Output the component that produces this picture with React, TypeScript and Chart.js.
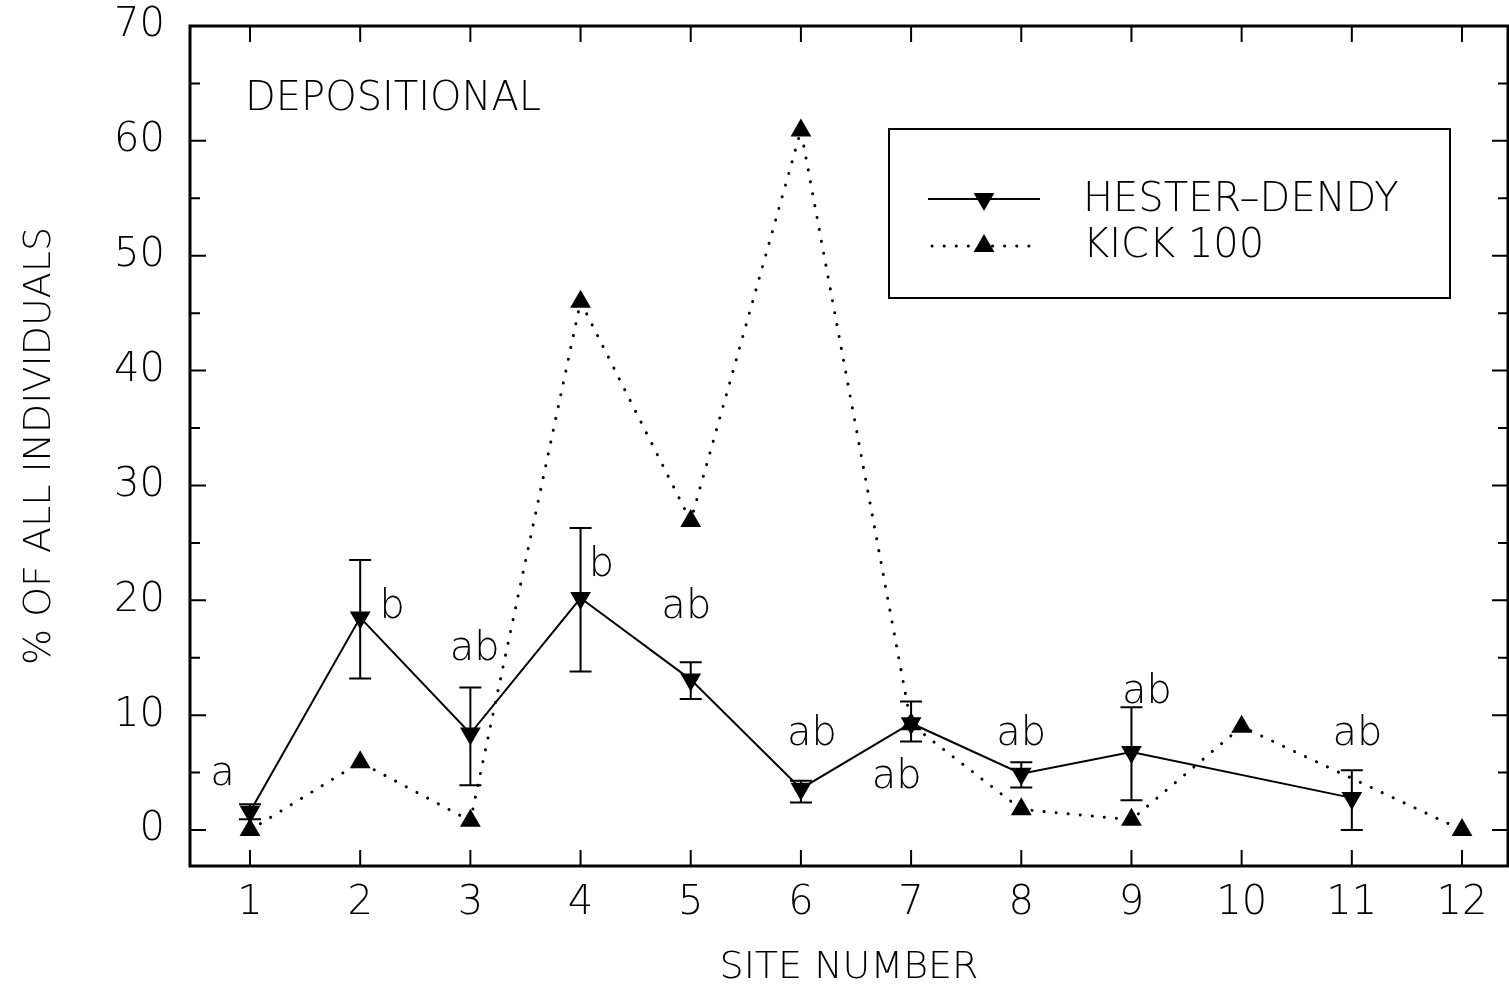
import React, { useEffect, useRef } from "react";
import { Chart, registerables } from "chart.js";

Chart.register(...registerables);

// ---- data ----
const sites = [1, 2, 3, 4, 5, 6, 7, 8, 9, 10, 11, 12];
const hesterDendy = [1.6, 18.5, 8.4, 20.2, 13.1, 3.6, 9.3, 4.9, 6.8, null, 2.8, null];
const hesterLow = [0.95, 13.2, 3.9, 13.8, 11.4, 2.4, 7.7, 3.7, 2.6, null, 0.0, null];
const hesterHigh = [2.25, 23.5, 12.4, 26.3, 14.6, 4.3, 11.2, 5.9, 10.7, null, 5.2, null];
const kick100 = [0, 5.9, 0.8, 46.0, 26.9, 60.9, 9.2, 1.8, 0.9, 9.0, null, 0];
const letterText = ["a", "b", "ab", "b", "ab", "ab", "ab", "ab", "ab", "ab"];
const letterX = [0.75, 2.29, 3.04, 4.19, 4.96, 6.1, 6.87, 8.0, 9.14, 11.05];
const letterY = [4.8, 19.4, 15.7, 23.0, 19.4, 8.3, 4.6, 8.3, 12.0, 8.3];
const yTicks = [0, 10, 20, 30, 40, 50, 60, 70];
const yMinorTicks = [5, 15, 25, 35, 45, 55, 65];
const seriesNames = ["HESTER\u2013DENDY", "KICK 100"];
const panelLabel = "DEPOSITIONAL";

const FONT = "'DejaVu Sans', 'Liberation Sans', sans-serif";
const W = 1509;
const H = 991;

function drawTri(ctx: CanvasRenderingContext2D, x: number, y: number, r: number, down: boolean) {
  ctx.save();
  ctx.beginPath();
  const s = down ? -1 : 1;
  ctx.moveTo(x, y - s * r);
  ctx.lineTo(x + Math.sin((2 * Math.PI) / 3) * r, y + s * r / 2);
  ctx.lineTo(x - Math.sin((2 * Math.PI) / 3) * r, y + s * r / 2);
  ctx.closePath();
  ctx.fillStyle = "#000";
  ctx.fill();
  ctx.restore();
}

function zeroPad(s: any) {
  s.paddingTop = 0;
  s.paddingBottom = 0;
  s.paddingLeft = 0;
  s.paddingRight = 0;
}

const decorPlugin = {
  id: "decor",
  beforeDatasetsDraw(chart: any) {
    const ctx = chart.ctx as CanvasRenderingContext2D;
    const xs = chart.scales.x;
    const ys = chart.scales.y;
    const { left, right, top, bottom } = chart.chartArea;
    ctx.save();
    // error bars
    ctx.strokeStyle = "#000";
    ctx.lineWidth = 2;
    sites.forEach((s, i) => {
      const lo = hesterLow[i];
      const hi = hesterHigh[i];
      if (lo == null || hi == null) return;
      const px = xs.getPixelForValue(s);
      const pl = ys.getPixelForValue(lo);
      const ph = ys.getPixelForValue(hi);
      ctx.beginPath();
      ctx.moveTo(px, pl);
      ctx.lineTo(px, ph);
      ctx.moveTo(px - 11, pl);
      ctx.lineTo(px + 11, pl);
      ctx.moveTo(px - 11, ph);
      ctx.lineTo(px + 11, ph);
      ctx.stroke();
    });
    // frame
    ctx.lineWidth = 3;
    ctx.strokeRect(left, top, right - left, bottom - top);
    // ticks
    ctx.lineWidth = 2;
    ctx.beginPath();
    yTicks.forEach((v) => {
      const py = ys.getPixelForValue(v);
      ctx.moveTo(left, py);
      ctx.lineTo(left + 16, py);
      ctx.moveTo(right, py);
      ctx.lineTo(right - 16, py);
    });
    yMinorTicks.forEach((v) => {
      const py = ys.getPixelForValue(v);
      ctx.moveTo(left, py);
      ctx.lineTo(left + 10, py);
      ctx.moveTo(right, py);
      ctx.lineTo(right - 10, py);
    });
    sites.forEach((s) => {
      const px = xs.getPixelForValue(s);
      ctx.moveTo(px, bottom);
      ctx.lineTo(px, bottom - 16);
      ctx.moveTo(px, top);
      ctx.lineTo(px, top + 16);
    });
    ctx.stroke();
    ctx.restore();
  },
  afterDatasetsDraw(chart: any) {
    const ctx = chart.ctx as CanvasRenderingContext2D;
    const xs = chart.scales.x;
    const ys = chart.scales.y;
    ctx.save();
    ctx.fillStyle = "#000";
    ctx.textBaseline = "middle";
    ctx.textAlign = "center";
    ctx.font = `200 40px ${FONT}`;
    letterText.forEach((t, i) => {
      ctx.fillText(t, xs.getPixelForValue(letterX[i]), ys.getPixelForValue(letterY[i]));
    });
    // panel label
    ctx.textAlign = "left";
    ctx.fillText(panelLabel, 245, 100);
    // legend
    ctx.lineWidth = 2;
    ctx.strokeStyle = "#000";
    ctx.strokeRect(889, 129, 561, 169);
    ctx.beginPath();
    ctx.moveTo(928, 199);
    ctx.lineTo(1040, 199);
    ctx.stroke();
    drawTri(ctx, 984, 199, 12, true);
    ctx.save();
    ctx.lineWidth = 3;
    ctx.lineCap = "round";
    ctx.setLineDash([0.1, 12]);
    ctx.beginPath();
    ctx.moveTo(932, 246);
    ctx.lineTo(1040, 246);
    ctx.stroke();
    ctx.restore();
    drawTri(ctx, 984, 246, 12, false);
    ctx.font = `200 40px ${FONT}`;
    ctx.fillText(seriesNames[0], 1083, 201);
    ctx.fillText(seriesNames[1], 1083, 247);
    ctx.restore();
  },
};

export default function App() {
  const ref = useRef<HTMLCanvasElement | null>(null);
  useEffect(() => {
    document.body.style.margin = "0";
    const canvas = ref.current;
    if (!canvas) return;
    const chart = new Chart(canvas, {
      type: "line",
      data: {
        datasets: [
          {
            label: seriesNames[0],
            data: sites.map((s, i) => ({ x: s, y: hesterDendy[i] })),
            borderColor: "#000",
            backgroundColor: "#000",
            borderWidth: 2,
            pointStyle: "triangle",
            pointRotation: 180,
            pointRadius: 12,
            pointBorderWidth: 0,
            pointBackgroundColor: "#000",
            spanGaps: true,
            tension: 0,
          },
          {
            label: seriesNames[1],
            data: sites.map((s, i) => ({ x: s, y: kick100[i] })),
            borderColor: "#000",
            backgroundColor: "#000",
            borderWidth: 3,
            borderDash: [0.1, 12],
            borderCapStyle: "round",
            pointStyle: "triangle",
            pointRadius: 12,
            pointBorderWidth: 0,
            pointBackgroundColor: "#000",
            spanGaps: true,
            tension: 0,
          },
        ],
      },
      options: {
        animation: false,
        responsive: false,
        maintainAspectRatio: false,
        layout: { autoPadding: false, padding: { top: 26, right: 1, left: 0, bottom: 0 } },
        plugins: { legend: { display: false }, tooltip: { enabled: false } },
        scales: {
          x: {
            type: "linear",
            min: 0.4554,
            max: 12.4175,
            grid: { display: false, drawTicks: false },
            border: { display: false },
            afterFit: (s: any) => {
              s.height = 125;
              zeroPad(s);
            },
            afterBuildTicks: (s: any) => {
              s.ticks = sites.map((v) => ({ value: v }));
            },
            ticks: {
              color: "#000",
              padding: 14,
              maxRotation: 0,
              autoSkip: false,
              font: { family: FONT, size: 40, weight: "200" },
            },
            title: {
              display: true,
              text: "SITE NUMBER",
              color: "#000",
              padding: { top: 0, bottom: 0 },
              font: { family: FONT, size: 38, weight: "200" },
            },
          },
          y: {
            type: "linear",
            min: -3.13,
            max: 70,
            grid: { display: false, drawTicks: false },
            border: { display: false },
            afterFit: (s: any) => {
              s.width = 190;
              zeroPad(s);
            },
            afterBuildTicks: (s: any) => {
              s.ticks = yTicks.map((v) => ({ value: v }));
            },
            ticks: {
              color: "#000",
              padding: 25,
              font: { family: FONT, size: 40, weight: "200" },
            },
            title: {
              display: true,
              text: "% OF ALL INDIVIDUALS",
              color: "#000",
              padding: { top: 17, bottom: 0 },
              font: { family: FONT, size: 38, weight: "200" },
            },
          },
        },
      },
      plugins: [decorPlugin],
    } as any);
    return () => chart.destroy();
  }, []);
  return (
    <div style={{ position: "fixed", left: 0, top: 0, width: W, height: H, background: "#fff" }}>
      <canvas ref={ref} width={W} height={H} style={{ width: W, height: H, display: "block" }} />
    </div>
  );
}
